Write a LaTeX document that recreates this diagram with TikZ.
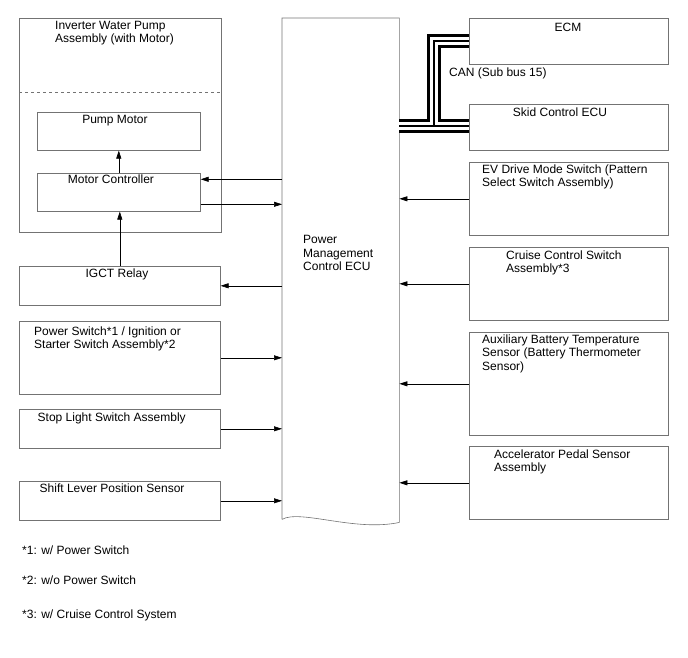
\documentclass[tikz,border=0pt]{standalone}
\usepackage{fontspec}
\setmainfont{Liberation Sans}
\usetikzlibrary{arrows.meta,positioning}

\tikzset{
  blk/.style={draw=black!55,line width=.6pt,inner sep=0pt,anchor=north west},
  lbl/.style={inner sep=0pt,font=\fontsize{12}{13.4}\selectfont,align=left},
  sig/.style={-{Triangle[length=8pt,width=5pt]},line width=.6pt},
}

\begin{document}
\begin{tikzpicture}[x=1pt,y=-1pt]
\useasboundingbox (0,0) rectangle (688,658);
% left side
\node[blk,minimum width=202pt,minimum height=214pt] (iwp) at (19,18) {};
\node[blk,minimum width=163pt,minimum height=38pt] (pm) at (37,112) {};
\node[blk,minimum width=163pt,minimum height=38pt] (mc) at (37,173) {};
\node[blk,minimum width=201pt,minimum height=39pt] (igct) at (19,266) {};
\node[blk,minimum width=201pt,minimum height=73pt] (psw) at (19,321) {};
\node[blk,minimum width=201pt,minimum height=39pt] (stop) at (19,409) {};
\node[blk,minimum width=201pt,minimum height=39pt] (shift) at (19,481) {};
\draw[black!55,dashed,line width=.6pt] (iwp.west |- 0,92) -- (iwp.east |- 0,92);
% ecu
\node[inner sep=0pt,minimum width=117pt,minimum height=501pt,anchor=north west] (ecu) at (282,18) {};
\draw[black!55,line width=.6pt] (ecu.south west) -- (ecu.north west) -- (ecu.north east)
  -- ([yshift=-3pt]ecu.south east) .. controls (355,532) and (300,509) .. (ecu.south west);
% right side
\node[blk,minimum width=199pt,minimum height=46pt] (ecm) at (469,18) {};
\node[blk,minimum width=199pt,minimum height=46pt] (skid) at (469,104) {};
\node[blk,minimum width=199pt,minimum height=73pt] (ev) at (469,162) {};
\node[blk,minimum width=199pt,minimum height=73pt] (cruise) at (469,247) {};
\node[blk,minimum width=199pt,minimum height=103pt] (aux) at (469,332) {};
\node[blk,minimum width=199pt,minimum height=73pt] (accel) at (469,446) {};

% texts
\node[lbl,anchor=north west] (t-iwp) at (55,21) {Inverter Water Pump\\Assembly (with Motor)};
\node[lbl,anchor=north] (t-pm) at (115,115) {Pump Motor};
\node[lbl,anchor=north] (t-mc) at (111,175) {Motor Controller};
\node[lbl,anchor=north] (t-igct) at (117,269) {IGCT Relay};
\node[lbl,anchor=north west] (t-psw) at (34,326.5) {Power Switch*1 / Ignition or\\Starter Switch Assembly*2};
\node[lbl,anchor=north west] (t-stop) at (37.5,412.5) {Stop Light Switch Assembly};
\node[lbl,anchor=north west] (t-shift) at (39.5,484) {Shift Lever Position Sensor};
\node[lbl,anchor=north west] (t-ecu) at (303,235.5) {Power\\Management\\Control ECU};
\node[lbl,anchor=north] (t-ecm) at (568,23) {ECM};
\node[lbl,anchor=north] (t-skid) at (560,107.5) {Skid Control ECU};
\node[lbl,anchor=north west] (t-can) at (449,68) {CAN (Sub bus 15)};
\node[lbl,anchor=north west] (t-ev) at (482,164.5) {EV Drive Mode Switch (Pattern\\Select Switch Assembly)};
\node[lbl,anchor=north west] (t-cruise) at (506,250.5) {Cruise Control Switch\\Assembly*3};
\node[lbl,anchor=north west] (t-aux) at (482,334.5) {Auxiliary Battery Temperature\\Sensor (Battery Thermometer\\Sensor)};
\node[lbl,anchor=north west] (t-accel) at (494,449.5) {Accelerator Pedal Sensor\\Assembly};
\node[lbl,anchor=north west] (n1) at (22,545.5) {*1: w/ Power Switch};
\node[lbl,anchor=north west] (n2) at (22,575.5) {*2: w/o Power Switch};
\node[lbl,anchor=north west] (n3) at (22,609.5) {*3: w/ Cruise Control System};

% can bus
\coordinate (canj) at (434,126);
\coordinate (canb) at (434,41);
\foreach \w/\c in {14/black,7.5/white,1.2/black}
  \draw[line width=\w pt,\c] (ecu.east |- canj) -- (skid.west |- canj)
    (canj) -- (canb) -- (ecm.west |- canb);

% signals
\coordinate (mcin) at ([yshift=13pt]mc.east);
\coordinate (mcout) at ([yshift=-12pt]mc.east);
\draw[sig] (mcin -| ecu.west) -- (mcin);
\draw[sig] (mcout) -- (mcout -| ecu.west);
\draw[sig] (mc.north) -- (mc.north |- pm.south);
\draw[sig] (igct.north) -- (igct.north |- mc.south);
\draw[sig] (igct.east -| ecu.west) -- (igct.east);
\draw[sig] (psw.east) -- (psw.east -| ecu.west);
\draw[sig] (stop.east) -- (stop.east -| ecu.west);
\draw[sig] (shift.east) -- (shift.east -| ecu.west);
\draw[sig] (ev.west) -- (ev.west -| ecu.east);
\draw[sig] (cruise.west) -- (cruise.west -| ecu.east);
\draw[sig] (aux.west) -- (aux.west -| ecu.east);
\draw[sig] (accel.west) -- (accel.west -| ecu.east);
\end{tikzpicture}
\end{document}
